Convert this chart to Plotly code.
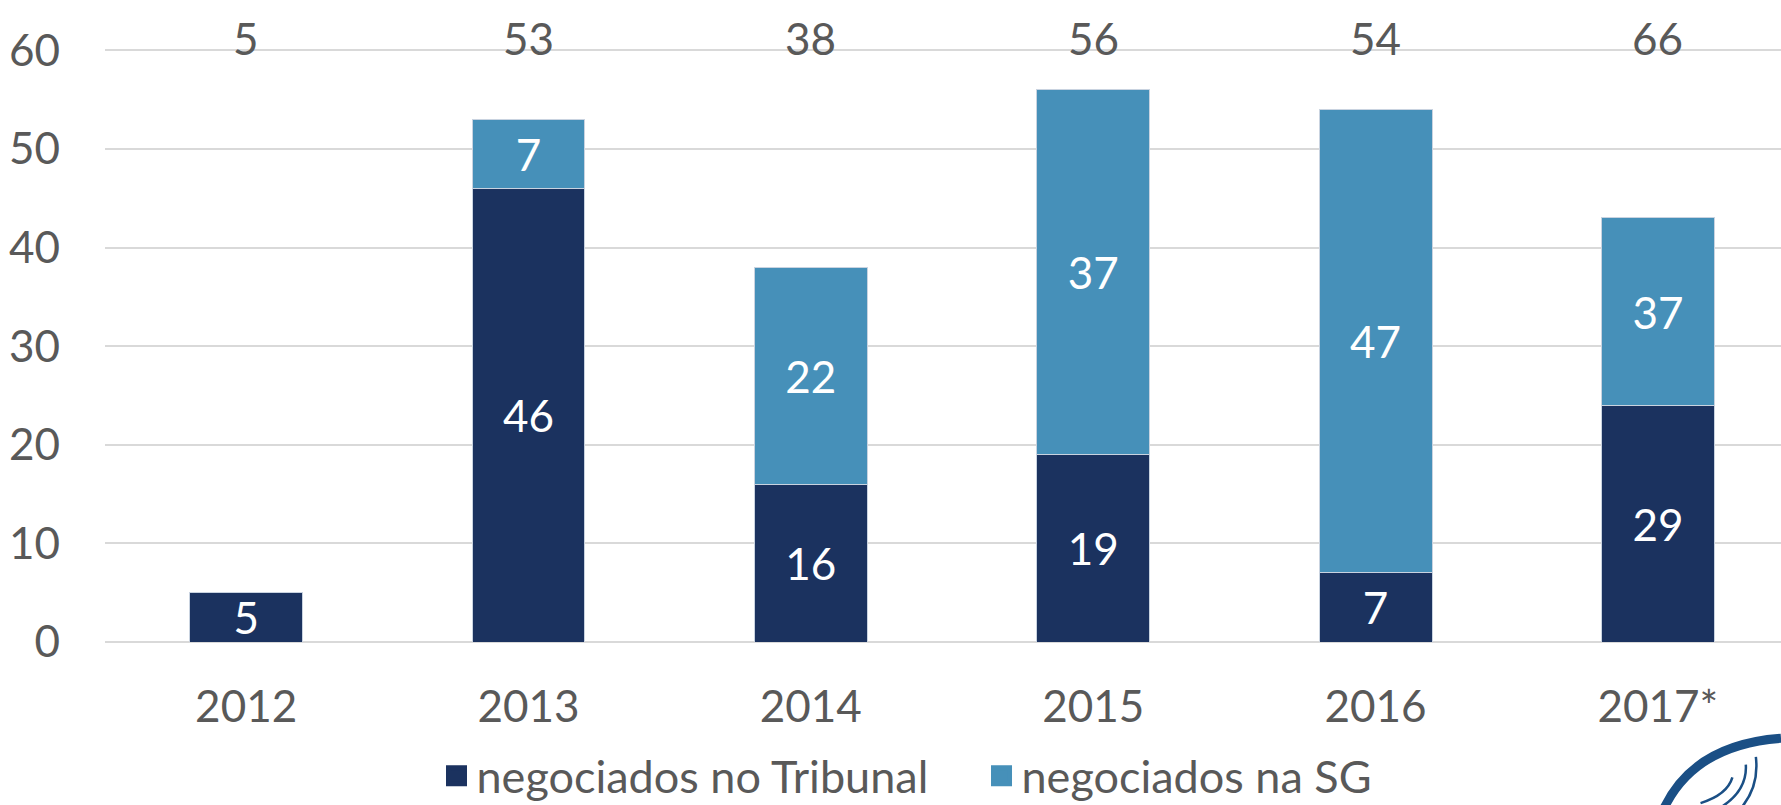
import plotly.graph_objects as go

anos = ["2012", "2013", "2014", "2015", "2016", "2017*"]
tribunal = [5, 46, 16, 19, 7, 24]
sg = [0, 7, 22, 37, 47, 19]
tribunal_rotulos = ["5", "46", "16", "19", "7", "29"]
sg_rotulos = ["", "7", "22", "37", "47", "37"]
totais = [5, 53, 38, 56, 54, 66]

AZUL_ESCURO = "#1B325F"
AZUL_CLARO = "#4690B9"
CINZA = "#595959"
FONTE = "Lato"

fig = go.Figure()
fig.add_trace(go.Bar(
    x=anos, y=tribunal, name="negociados no Tribunal", showlegend=False,
    marker=dict(color=AZUL_ESCURO, line=dict(color="#c9d3e0", width=1)),
    text=tribunal_rotulos, textposition="inside", insidetextanchor="middle",
    textangle=0, textfont=dict(color="white", size=44, family=FONTE),
))
fig.add_trace(go.Bar(
    x=anos, y=sg, name="negociados na SG", showlegend=False,
    marker=dict(color=AZUL_CLARO, line=dict(color="#c9d3e0", width=1)),
    text=sg_rotulos, textposition="inside", insidetextanchor="middle",
    textangle=0, textfont=dict(color="white", size=44, family=FONTE),
))

# entradas da legenda com quadrados maiores
for nome, cor in [("negociados no Tribunal", AZUL_ESCURO), ("negociados na SG", AZUL_CLARO)]:
    fig.add_trace(go.Scatter(x=[None], y=[None], mode="markers", name=nome,
                             marker=dict(symbol="square", size=16, color=cor,
                                         line=dict(color=cor, width=8))))

for i, total in enumerate(totais):
    fig.add_annotation(x=i, y=61.2, text=str(total), showarrow=False,
                       font=dict(size=44, color=CINZA, family=FONTE), yanchor="middle")

# logo (arcos) no canto inferior direito
fig.add_shape(type="path", xref="paper", yref="paper",
              path="M 0.930 -0.26 Q 0.948 -0.160 1.0 -0.150",
              line=dict(color="#1a4f85", width=9))
fig.add_shape(type="path", xref="paper", yref="paper",
              path="M 0.952 -0.251 Q 0.968 -0.238 0.971 -0.211",
              line=dict(color="#1a4f85", width=2.5))
fig.add_shape(type="path", xref="paper", yref="paper",
              path="M 0.965 -0.256 Q 0.980 -0.230 0.979 -0.191",
              line=dict(color="#1a4f85", width=2.5))
fig.add_shape(type="path", xref="paper", yref="paper",
              path="M 0.977 -0.256 Q 0.987 -0.223 0.985 -0.179",
              line=dict(color="#1a4f85", width=2.5))

fig.update_layout(
    barmode="stack", bargap=0.6,
    width=1781, height=805,
    margin=dict(l=105, r=0, t=0, b=163),
    paper_bgcolor="white", plot_bgcolor="white",
    font=dict(family=FONTE, color=CINZA, size=44),
    uniformtext=dict(minsize=44, mode="show"),
    legend=dict(orientation="h", x=0.1978, xanchor="left", yref="container", y=0.036,
                yanchor="middle", font=dict(size=45, color=CINZA), itemsizing="trace",
                traceorder="normal", itemwidth=30, entrywidth=500, entrywidthmode="pixels"),
    xaxis=dict(range=[-0.5, 5.436], showgrid=False, showline=False, ticks="",
               automargin=False, ticklabelstandoff=35, tickfont=dict(size=44, color=CINZA)),
    yaxis=dict(range=[0, 65.1], tickvals=[0, 10, 20, 30, 40, 50, 60], showgrid=True,
               gridcolor="#d9d9d9", gridwidth=2, zeroline=True, zerolinecolor="#d9d9d9",
               zerolinewidth=2, ticks="", ticklabelstandoff=44, automargin=False,
               tickfont=dict(size=44, color=CINZA)),
)

fig.write_html("out.html", config={"displayModeBar": False},
               post_script="document.body.style.margin='0';")
